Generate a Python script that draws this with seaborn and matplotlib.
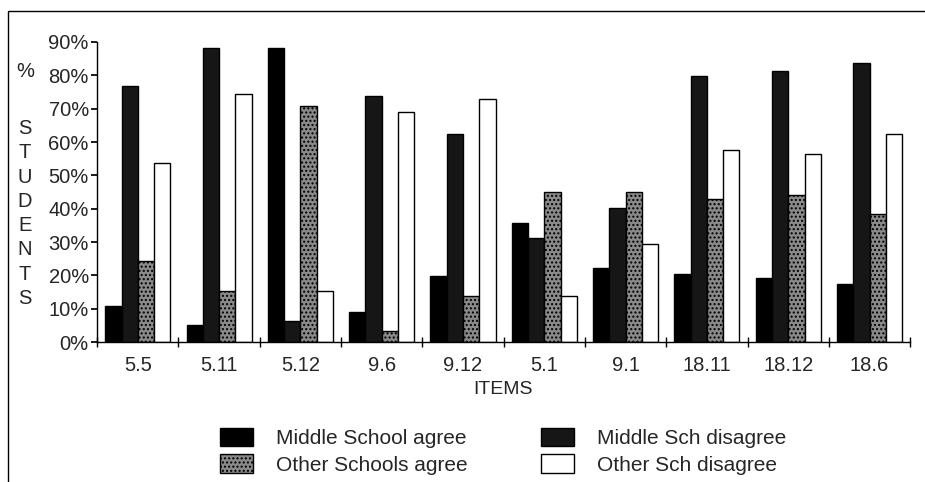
import numpy as np
import pandas as pd
import seaborn as sns
import matplotlib.pyplot as plt
from matplotlib.patches import Rectangle, Patch
from matplotlib.ticker import FuncFormatter

# Items on the x axis
items = ['5.5', '5.11', '5.12', '9.6', '9.12', '5.1', '9.1', '18.11', '18.12', '18.6']

# Percent of students for each group
ms_agree = [11.0, 5.2, 88.2, 9.0, 19.9, 35.7, 22.2, 20.5, 19.3, 17.3]
ms_disagree = [76.8, 88.2, 6.5, 73.7, 62.3, 31.2, 40.2, 79.9, 81.3, 83.6]
os_agree = [24.2, 15.5, 70.8, 3.4, 13.8, 45.0, 45.0, 42.9, 44.1, 38.3]
os_disagree = [53.6, 74.3, 15.5, 69.1, 72.8, 13.9, 29.3, 57.5, 56.4, 62.3]

groups = ['Middle School agree', 'Middle Sch disagree', 'Other Schools agree', 'Other Sch disagree']
colors = ['#000000', '#161616', '#8a8a8a', '#ffffff']

rows = []
for g, vals in zip(groups, [ms_agree, ms_disagree, os_agree, os_disagree]):
    for it, v in zip(items, vals):
        rows.append((it, g, v))
df = pd.DataFrame(rows, columns=['Item', 'Group', 'Pct'])

sns.set_theme(style='white')
plt.rcParams['font.family'] = ['Liberation Sans', 'DejaVu Sans']

fig = plt.figure(figsize=(9.25, 4.82), dpi=100)
ax = fig.add_axes([0.105, 0.290, 0.879, 0.623])

sns.barplot(data=df, x='Item', y='Pct', hue='Group', order=items, hue_order=groups,
            palette=colors, width=0.8, edgecolor='black', linewidth=1, saturation=1,
            legend=False, ax=ax)

# stipple the grey bars a bit
for bar in ax.containers[2]:
    bar.set_hatch('....')

ax.set_ylim(0, 90)
ax.set_xlim(-0.5, len(items) - 0.5)
ax.set_yticks(np.arange(0, 91, 10))
ax.yaxis.set_major_formatter(FuncFormatter(lambda v, p: '%d%%' % v))
ax.set_xlabel('')
ax.set_ylabel('')

for s in ['top', 'right']:
    ax.spines[s].set_visible(False)
for s in ['left', 'bottom']:
    ax.spines[s].set_color('black')
    ax.spines[s].set_linewidth(1)

ax.tick_params(axis='y', which='major', left=True, length=4, color='black', labelsize=14.5, pad=2)
ax.tick_params(axis='x', which='major', bottom=False, labelsize=14.5, pad=4)
ax.set_xticks(np.arange(-0.5, len(items), 1), minor=True)
ax.tick_params(axis='x', which='minor', bottom=True, direction='inout', length=7, color='black')

# x axis title
fig.text(0.544, 0.191, 'ITEMS', fontsize=14, ha='center', va='center')

# stacked y label
fig.text(0.027, 0.851, '%', fontsize=14.5, ha='center', va='center')
fig.text(0.027, 0.557, 'S\nT\nU\nD\nE\nN\nT\nS', fontsize=14.5, ha='center', va='center',
         linespacing=1.35)

handles = [Patch(facecolor=colors[0], edgecolor='black', label=groups[0]),
           Patch(facecolor=colors[2], edgecolor='black', hatch='....', label=groups[2]),
           Patch(facecolor=colors[1], edgecolor='black', label=groups[1]),
           Patch(facecolor=colors[3], edgecolor='black', label=groups[3])]
fig.legend(handles=handles, ncol=2, loc='center', bbox_to_anchor=(0.544, 0.064),
           frameon=False, fontsize=15, handlelength=1.6, handleheight=1.0,
           handletextpad=1.1, columnspacing=3.5, labelspacing=0.3, borderpad=0)

# outer frame of the chart area
fig.patches.append(Rectangle((0.009, -0.01), 1.0, 0.987, transform=fig.transFigure,
                             fill=False, edgecolor='black', linewidth=1))

fig.savefig('out.png', dpi=100)
